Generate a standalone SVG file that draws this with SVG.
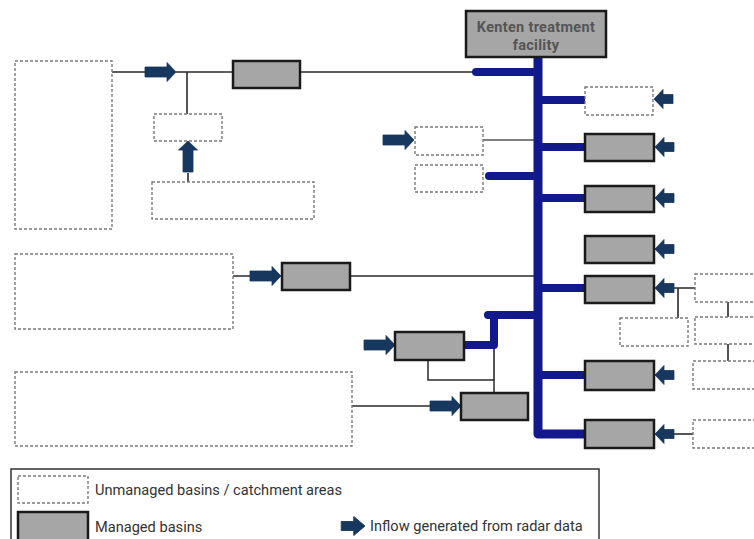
<svg xmlns="http://www.w3.org/2000/svg" width="754" height="539" viewBox="0 0 754 539">
<style>
.um{fill:#fff;stroke:#7a7a7a;stroke-width:1.4;stroke-dasharray:3 2}
.mb{fill:#a6a6a6;stroke:#1a1a1a;stroke-width:2.5}
.ln{fill:none;stroke:#2a2a2a;stroke-width:1.6}
.bl{fill:none;stroke:#12198c;stroke-width:8}
.ar{fill:#17375e;stroke:#17375e;stroke-width:0.8;stroke-linejoin:round}
.t{font-family:Roboto,"Liberation Sans",sans-serif;font-size:14.6px;fill:#333}
.kt{font-family:Roboto,"Liberation Sans",sans-serif;font-size:14.5px;font-weight:bold;fill:#555;text-anchor:middle;letter-spacing:0.3px}
</style>
<defs>
<path id="aL" class="ar" d="M-31,-5 H-9 V-9.5 L0,0 L-9,9.5 V5 H-31 Z"/>
<path id="aS" class="ar" d="M-19,-4.5 H-9 V-9.5 L0,0 L-9,9.5 V4.5 H-19 Z"/>
</defs>
<g id="connectors">
<path class="ln" d="M112,72 H145 M176,72 H233 M300,72 H476"/>
<path class="ln" d="M187,72 V114"/>
<path class="ln" d="M188,173 V182"/>
<path class="ln" d="M483,140 H535" style="stroke:#555;stroke-width:1.4"/>
<path class="ln" d="M233,276 H250 M350,276 H535" style="stroke-width:1.3"/>
<path class="ln" d="M352,406 H435"/>
<path class="ln" d="M428,360 V380 H494 V393" style="stroke-width:1.5"/>
<path class="ln" d="M494,345 V380"/>
<path class="ln" d="M673,288 H695 M678,288 V318"/>
<path class="ln" d="M728,302 V317 M728,344 V361"/>
<path class="ln" d="M670,434 H693"/>
<path class="bl" d="M538,57 V434 H585" style="stroke-width:9;stroke-linejoin:round"/>
<path class="bl" d="M538,72 H476" style="stroke-linecap:round"/>
<path class="bl" d="M538,176 H489" style="stroke-linecap:round"/>
<path class="bl" d="M538,315 H488" style="stroke-linecap:round"/>
<path class="bl" d="M494,312 V345 H464" style="stroke-linejoin:round"/>
<path class="bl" d="M538,100 H585 M538,147 H585 M538,198 H585 M538,288 H585 M538,375 H585"/>
<use href="#aL" transform="translate(176,72)"/>
<use href="#aL" transform="translate(188,141) rotate(-90)"/>
<use href="#aL" transform="translate(414,140)"/>
<use href="#aL" transform="translate(281,276)"/>
<use href="#aL" transform="translate(395,345)"/>
<use href="#aL" transform="translate(461,406)"/>
<use href="#aS" transform="translate(654,99) rotate(180)"/>
<use href="#aS" transform="translate(655,147) rotate(180)"/>
<use href="#aS" transform="translate(655,198) rotate(180)"/>
<use href="#aS" transform="translate(655,249) rotate(180)"/>
<use href="#aS" transform="translate(655,288) rotate(180)"/>
<use href="#aS" transform="translate(655,375) rotate(180)"/>
<use href="#aS" transform="translate(655,434) rotate(180)"/>
</g>
<g id="kenten"><rect class="mb" x="466" y="11" width="140" height="46"/><text class="kt" x="536" y="32">Kenten treatment</text><text class="kt" x="536" y="50">facility</text></g>
<g id="u1"><rect class="um" x="15" y="61" width="97" height="168"/></g>
<g id="m1"><rect class="mb" x="233" y="61" width="67" height="27"/></g>
<g id="u2"><rect class="um" x="154" y="114" width="68" height="27"/></g>
<g id="u3"><rect class="um" x="152" y="182" width="162" height="37"/></g>
<g id="u4"><rect class="um" x="15" y="254" width="218" height="75"/></g>
<g id="m2"><rect class="mb" x="282" y="263" width="68" height="27"/></g>
<g id="u5"><rect class="um" x="15" y="372" width="337" height="74"/></g>
<g id="m3"><rect class="mb" x="395" y="332" width="69" height="28"/></g>
<g id="m4"><rect class="mb" x="461" y="393" width="67" height="27"/></g>
<g id="u6"><rect class="um" x="415" y="127" width="68" height="28"/></g>
<g id="u7"><rect class="um" x="415" y="165" width="68" height="27"/></g>
<g id="u8"><rect class="um" x="585" y="87" width="68" height="28"/></g>
<g id="m5"><rect class="mb" x="585" y="134" width="69" height="27"/></g>
<g id="m6"><rect class="mb" x="585" y="186" width="69" height="26"/></g>
<g id="m7"><rect class="mb" x="585" y="236" width="69" height="27"/></g>
<g id="m8"><rect class="mb" x="585" y="276" width="69" height="27"/></g>
<g id="u9"><rect class="um" x="620" y="318" width="68" height="28"/></g>
<g id="u10"><rect class="um" x="695" y="274" width="70" height="28"/></g>
<g id="u11"><rect class="um" x="695" y="317" width="70" height="27"/></g>
<g id="u12"><rect class="um" x="693" y="361" width="72" height="28"/></g>
<g id="m9"><rect class="mb" x="585" y="361" width="69" height="29"/></g>
<g id="u13"><rect class="um" x="693" y="420" width="72" height="28"/></g>
<g id="m10"><rect class="mb" x="585" y="420" width="69" height="28"/></g>
<g id="legend">
<rect x="11" y="469" width="588" height="80" fill="#fff" stroke="#333" stroke-width="1.5"/>
<rect class="um" x="18" y="476" width="70" height="27"/>
<text class="t" x="95" y="495">Unmanaged basins / catchment areas</text>
<rect class="mb" x="18" y="512" width="70" height="30"/>
<text class="t" x="95" y="532">Managed basins</text>
<use href="#aS" transform="translate(365,526) scale(1.25,1)"/>
<text class="t" x="370" y="531">Inflow generated from radar data</text>
</g>
</svg>
